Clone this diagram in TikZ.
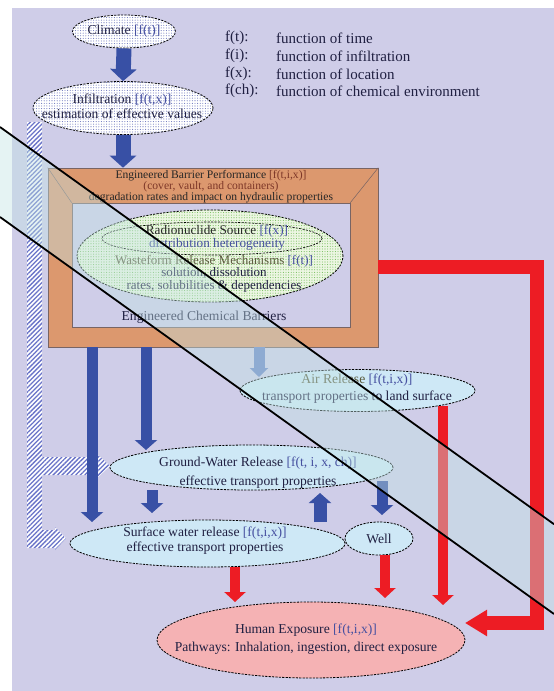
\documentclass[tikz,border=0pt]{standalone}
\usepackage{fontspec}
\setmainfont{Liberation Serif}
\usetikzlibrary{shapes.geometric,arrows.meta,patterns.meta}
\definecolor{lav}{RGB}{207,205,232}
\definecolor{orangef}{RGB}{220,152,110}
\definecolor{framed}{RGB}{120,100,100}
\definecolor{bluea}{RGB}{56,80,165}
\definecolor{lbluea}{RGB}{105,130,198}
\definecolor{reda}{RGB}{237,28,36}
\definecolor{ellb}{RGB}{206,232,246}
\definecolor{pinkf}{RGB}{245,178,180}
\definecolor{greenf}{RGB}{236,246,226}
\definecolor{greend}{RGB}{120,190,95}
\definecolor{dotb}{RGB}{110,120,190}
\definecolor{hatchc}{RGB}{105,115,200}
\definecolor{txtc}{RGB}{32,32,66}
\definecolor{brk}{RGB}{70,80,160}
\definecolor{brn}{RGB}{125,55,40}
\definecolor{olv}{RGB}{90,90,60}
\definecolor{bandc}{RGB}{195,228,228}
\tikzset{
  txt/.style={font=\fontsize{13.6}{15}\selectfont, text=txtc, align=center, inner sep=0pt},
  ell/.style={ellipse, draw=black, dash pattern=on 2.2pt off 1.2pt, line width=0.8pt, inner sep=0pt},
  dotfill/.style={fill=white, postaction={pattern={Dots[distance=2.6pt,radius=0.55pt]}, pattern color=dotb}},
  greenfill/.style={fill=greenf, postaction={pattern={Dots[distance=2.6pt,radius=0.55pt]}, pattern color=greend}},
  hatch/.style={fill=white, postaction={pattern={Lines[angle=45,distance=3.2pt,line width=1.3pt]}, pattern color=hatchc}},
  bigblue/.style={draw=bluea, line width=15pt, -{Triangle[width=26pt,length=12pt]}},
  bluearr/.style={draw=bluea, line width=11pt, -{Triangle[width=22pt,length=10pt]}},
  lbluearr/.style={draw=lbluea, line width=11pt, -{Triangle[width=18pt,length=9pt]}},
  redarr/.style={draw=reda, line width=10pt, -{Triangle[width=21pt,length=10pt]}},
  legtxt/.style={font=\fontsize{15}{17.5}\selectfont, text=txtc, inner sep=0pt, anchor=west}
}
\begin{document}
\begin{tikzpicture}[x=1pt,y=-1pt]
\useasboundingbox (0,0) rectangle (554,691);
\fill[white] (0,0) rectangle (554,691);
\fill[lav] (12,8) rectangle (554,691);

% hatched feedback path
\path[hatch] (27,122) -- (42,122) -- (42,457) -- (96,457) -- (96,453) -- (110,466) -- (96,479) -- (96,475) -- (42,475) -- (42,530) -- (55,530) -- (55,527) -- (66,538.5) -- (55,550) -- (55,548) -- (27,548) -- cycle;

% top ellipses
\node[ell, dotfill, minimum width=98, minimum height=33, txt] (clim) at (124,31.5) {Climate {\color{brk}[f(t)]}};
\node[ell, dotfill, minimum width=180, minimum height=53] (inf) at (123,108) {};
\node[txt] (inft) at (122,106) {Infiltration {\color{brk}[f(t,x)]}\\estimation of effective values};

% legend
\node[legtxt] (l1) at (225,38) {f(t):};
\node[legtxt] (l2) at (225,56) {f(i):};
\node[legtxt] (l3) at (225,74) {f(x):};
\node[legtxt] (l4) at (225,91) {f(ch):};
\node[legtxt] (m1) at (276,38) {function of time};
\node[legtxt] (m2) at (276,56) {function of infiltration};
\node[legtxt] (m3) at (276,74) {function of location};
\node[legtxt] (m4) at (276,91) {function of chemical environment};

% engineered barrier frame
\node[draw=framed, line width=0.6pt, fill=orangef, minimum width=330, minimum height=179, inner sep=0pt] (ebp) at (213,257.5) {};
\node[draw=framed, line width=0.6pt, fill=lav, minimum width=278, minimum height=124, inner sep=0pt] (ecb) at (211,265) {};
\draw[framed, line width=0.5pt] (ebp.north west) -- (ecb.north west);
\draw[framed, line width=0.5pt] (ebp.north east) -- (ecb.north east);
\node[txt, font=\fontsize{11.6}{11}\selectfont, text=black!85] (ebpt) at (211,186.5) {Engineered Barrier Performance {\color{brn}[f(t,i,x)]}\\{\color{brn}(cover, vault, and containers)}\\degradation rates and impact on hydraulic properties};

% source ellipses
\node[ell, greenfill, minimum width=266, minimum height=92] (src) at (210,256) {};
\node[ell, line width=0.6pt, minimum width=220, minimum height=33] (rad) at (212,238.5) {};
\node[txt, font=\fontsize{13.2}{11.5}\selectfont] (radt) at (217,237.5) {{\color{black!85}Radionuclide Source} {\color{brk}[f(x)]}\\{\color{brk}distribution heterogeneity}};
\node[txt, font=\fontsize{13}{12.4}\selectfont] (wft) at (214,273.5) {{\color{olv}Wasteform Release Mechanisms} {\color{brk}[f(t)]}\\solution, dissolution\\rates, solubilities \& dependencies};
\node[txt] (ecbt) at (204,317) {Engineered Chemical Barriers};

% lower ellipses
\node[ell, fill=ellb, minimum width=235, minimum height=42] (air) at (357.5,390.5) {};
\node[txt, font=\fontsize{13.6}{17}\selectfont] (airt) at (357,388.5) {{\color{olv}Air Release} {\color{brk}[f(t,i,x)]}\\transport properties to land surface};
\node[ell, fill=ellb, minimum width=283, minimum height=45] (gw) at (251.5,467.5) {};
\node[txt, font=\fontsize{13.6}{19}\selectfont] (gwt) at (258,472.5) {Ground-Water Release {\color{brk}[f(t, i, x, ch)]}\\effective transport properties};
\node[ell, fill=ellb, minimum width=275, minimum height=47] (sw) at (207.5,543.5) {};
\node[txt, font=\fontsize{13.6}{15}\selectfont] (swt) at (205,540.5) {Surface water release {\color{brk}[f(t,i,x)]}\\effective transport properties};
\node[ell, fill=ellb, minimum width=68, minimum height=33, txt] (well) at (379,538.5) {Well};
\node[ell, fill=pinkf, minimum width=308, minimum height=76] (he) at (311,640) {};
\node[txt, font=\fontsize{13.6}{18}\selectfont] (het) at (306,639) {Human Exposure {\color{brk}[f(t,i,x)]}\\Pathways: Inhalation, ingestion, direct exposure};

% arrow end points
\coordinate (t1) at (92,522);
\coordinate (t2) at (146,450);
\coordinate (t3) at (259,377);
\coordinate (t4) at (152,513);
\coordinate (t5) at (320,493);
\coordinate (t5s) at (320,522);
\coordinate (t6) at (382,515);
\coordinate (t6s) at (382,481);
\coordinate (t7) at (235,602);
\coordinate (t8) at (385,598);
\coordinate (t9) at (443,605);
\coordinate (t9s) at (443,406);
\coordinate (rc1) at (537,267);
\coordinate (rc2) at (537,623);
\coordinate (rtip) at (465,623);

% blue arrows
\draw[bigblue] (clim.south) -- (inf.north);
\draw[bigblue] (inf.south) -- (inf.south |- ebp.north);
\draw[bluearr] (t1 |- ebp.south) -- (t1);
\draw[bluearr] (t2 |- ebp.south) -- (t2);
\draw[lbluearr] (t3 |- ebp.south) -- (t3);
\draw[bluearr] (t4 |- gw.south) -- (t4);
\draw[bluearr, line width=13pt] (t5s) -- (t5);
\draw[bluearr] (t6s) -- (t6);

% red arrows
\draw[redarr] (t7 |- sw.south) -- (t7);
\draw[redarr] (t8 |- well.south) -- (t8);
\draw[redarr] (t9s) -- (t9);
\draw[draw=reda, line width=14pt, -{Triangle[width=25pt,length=22pt]}] ([yshift=-9.5pt]ebp.east) -- (rc1) -- (rc2) -- (rtip);

% translucent diagonal band
\fill[bandc, opacity=0.42] (0,127) -- (554,524.2) -- (554,614) -- (0,217) -- cycle;
\draw[black, line width=1.8pt] (0,127) -- (554,524.2);
\draw[black, line width=1.8pt] (0,217) -- (554,614);
\end{tikzpicture}
\end{document}
